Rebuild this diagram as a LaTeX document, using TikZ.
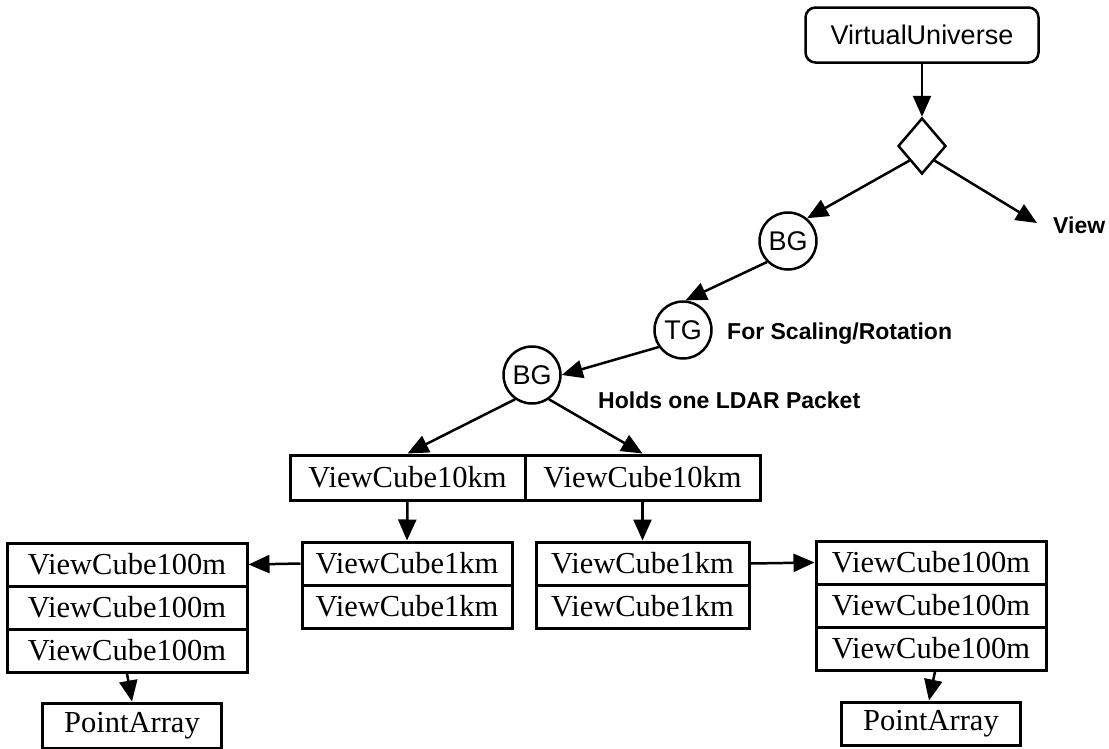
\documentclass[tikz,border=0pt]{standalone}
\usepackage{fontspec}
\setmainfont{Liberation Serif}
\setsansfont{Liberation Sans}
\usetikzlibrary{arrows.meta,shapes.geometric}
\begin{document}
\begin{tikzpicture}[x=1pt,y=-1pt,
  cell/.style={draw,line width=3pt,inner sep=0pt,minimum height=43pt,font=\fontsize{30.5}{34}\selectfont},
  circ/.style={draw,circle,line width=2.5pt,inner sep=0pt,minimum size=57pt,font=\sffamily\fontsize{27}{30}\selectfont},
  lbl/.style={font=\sffamily\bfseries\fontsize{23}{27}\selectfont,inner sep=0pt},
  arr/.style={line width=2.5pt,-{Triangle[length=21pt,width=18pt]}}
]
\useasboundingbox (0,0) rectangle (1109,748);
\fill[white] (0,0) rectangle (1109,748);

\node[draw,rounded corners=10pt,line width=2.5pt,minimum width=233pt,minimum height=55pt,inner sep=0pt,font=\sffamily\fontsize{27}{30}\selectfont] (vu) at (922,35) {VirtualUniverse};
\node[draw,diamond,line width=2.5pt,inner sep=0pt,minimum width=48pt,minimum height=56pt] (dia) at (922,146) {};
\coordinate (viewpt) at (1037,223);
\node[lbl,anchor=west] (view) at (1053,225) {View};

\node[circ] (bg1) at (788,241) {BG};
\node[circ] (tg) at (683,330) {TG};
\node[lbl,anchor=west] (scal) at (727,334) {For Scaling/Rotation};
\node[circ] (bg2) at (532,375) {BG};
\node[lbl,anchor=west] (holds) at (598,400) {Holds one LDAR Packet};

\node[cell,minimum width=235pt,minimum height=45pt] (c10a) at (407.5,477.5) {ViewCube10km};
\node[cell,minimum width=235pt,minimum height=45pt] (c10b) at (642.5,477.5) {ViewCube10km};

\node[cell,minimum width=210pt] (k1a) at (407,563.5) {ViewCube1km};
\node[cell,minimum width=210pt] (k1b) at (407,606.5) {ViewCube1km};
\node[cell,minimum width=213pt] (k2a) at (642.5,563.5) {ViewCube1km};
\node[cell,minimum width=213pt] (k2b) at (642.5,606.5) {ViewCube1km};

\node[cell,minimum width=240pt] (m1a) at (127,564.5) {ViewCube100m};
\node[cell,minimum width=240pt] (m1b) at (127,607.5) {ViewCube100m};
\node[cell,minimum width=240pt] (m1c) at (127,650.5) {ViewCube100m};
\node[cell,minimum width=230pt] (m2a) at (931,562.5) {ViewCube100m};
\node[cell,minimum width=230pt] (m2b) at (931,605.5) {ViewCube100m};
\node[cell,minimum width=230pt] (m2c) at (931,648.5) {ViewCube100m};

\node[cell,minimum width=179pt,minimum height=45pt] (pa1) at (132,725.5) {PointArray};
\node[cell,minimum width=179pt,minimum height=43pt] (pa2) at (931,723.5) {PointArray};

\draw[arr] (vu.south) -- (dia.north);
\draw[arr] (dia.south west) -- (bg1.50);
\draw[arr] (dia.south east) -- (viewpt);
\draw[arr] (bg1.225) -- (tg.85);
\draw[arr] (tg.215) -- (bg2.east);
\draw[arr] (bg2.235) -- (c10a.north);
\draw[arr] (bg2.305) -- (c10b.north);
\draw[arr] (c10a.south) -- (k1a.north);
\draw[arr] (c10b.south) -- (k2a.north);
\draw[arr] (k1a.west) -- (m1a.east);
\draw[arr] (k2a.east) -- (m2a.west);
\draw[arr] (m1c.south) -- (pa1.north);
\draw[arr] ([xshift=4pt]m2c.south) -- ([xshift=-2pt]pa2.north);
\end{tikzpicture}
\end{document}
